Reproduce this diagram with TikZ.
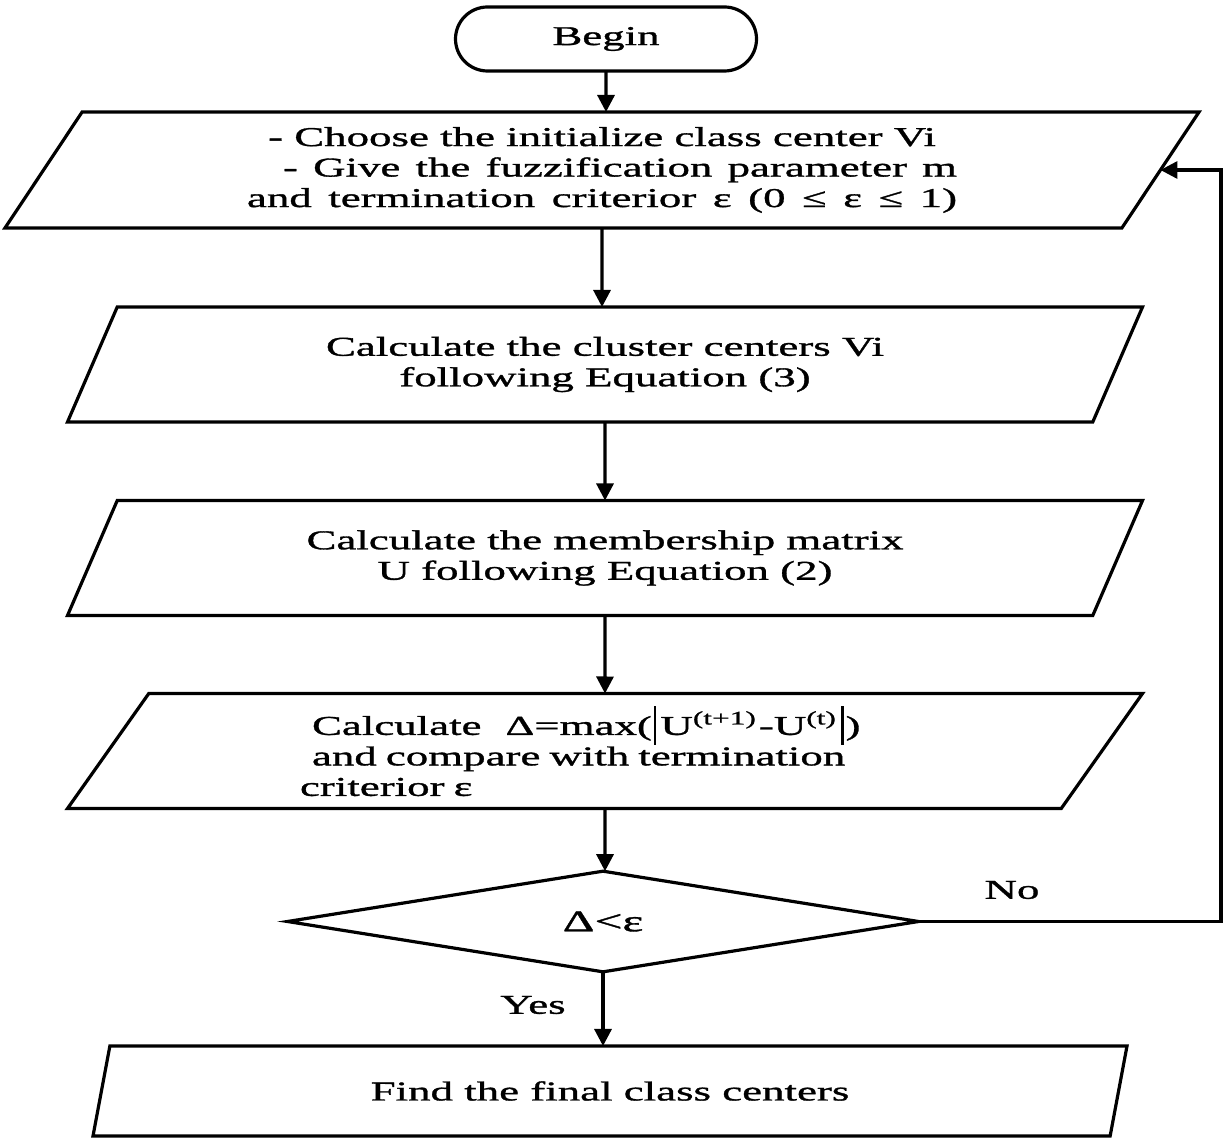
\documentclass[tikz,border=0pt]{standalone}
\usepackage{fontspec}
\setmainfont[FakeStretch=1.65,FakeBold=1.2]{Liberation Serif}
\usepackage{tikz}
\usetikzlibrary{arrows.meta,shapes.geometric,shapes.misc}
\newcommand{\tallbar}{\raisebox{-5pt}{\rule{1.3pt}{19.5pt}}}

\begin{document}
\begin{tikzpicture}[x=0.5pt,y=-0.5pt,>={Triangle[length=8.5pt,width=8.5pt]},
  every node/.style={font=\fontsize{13.6}{15.25}\selectfont},
  flow/.style={draw,line width=1.6pt,inner sep=0pt,outer sep=0pt},
  io/.style={flow,trapezium,trapezium left angle=48,trapezium right angle=132,
             trapezium stretches body,align=center},
  link/.style={line width=1.6pt,->}]
  \useasboundingbox (0,0) rectangle (1224,1138);

  % start
  \node[flow,rounded rectangle,minimum width=150.5pt,minimum height=32pt]
       (begin) at (606,39) {Begin};

  % initialisation
  \node[io,minimum width=597pt,minimum height=58pt] (init) at (602,170)
       {- Choose the initialize class center Vi\\
        \makebox[355pt][s]{\hspace{18pt}- Give the fuzzification parameter m}\\
        \makebox[355pt][s]{and termination criterior ε (0 ≤ ε ≤ 1)}};

  % iteration steps
  \node[io,minimum width=537.5pt,minimum height=57.5pt] (centers) at (605,364.5)
       {Calculate the cluster centers Vi\\following Equation (3)};
  \node[io,minimum width=537.5pt,minimum height=57.5pt] (member) at (605,558)
       {Calculate the membership matrix\\U following Equation (2)};
  \node[io,minimum width=537.5pt,minimum height=57.5pt,text width=305pt,align=left]
       (delta) at (605,751)
       {\hspace*{6pt}Calculate\hspace{12pt}Δ=max(\hspace{1pt}\tallbar\hspace{2pt}U\textsuperscript{(t+1)}\hspace{1pt}-U\textsuperscript{(t)}\hspace{2pt}\tallbar\hspace{1pt})\\
        \hspace*{6pt}and compare with termination\\criterior ε};

  % decision
  \node[flow,diamond,minimum width=315.5pt,minimum height=45.5pt] (test) at (603,921.5)
       {\fontsize{15}{15}\selectfont Δ<ε};

  % result
  \node[io,trapezium left angle=49,trapezium right angle=131,
        minimum width=517pt,minimum height=45pt] (final) at (610,1091)
       {Find the final class centers};

  % main flow
  \draw[link] (begin) -- (begin |- init.north);
  \draw[link] (init) -- (init |- centers.north);
  \draw[link] (centers) -- (centers |- member.north);
  \draw[link] (member) -- (member |- delta.north);
  \draw[link] (delta) -- (delta |- test.north);
  \draw[link] (test) -- (test |- final.north);

  % loop back
  \coordinate (back) at (1221,170);
  \draw[link] (test.east) -| (back) -- (init.right side);
  \node (no) at (1012,890) {No};
  \node (yes) at (533,1005) {Yes};
\end{tikzpicture}
\end{document}
